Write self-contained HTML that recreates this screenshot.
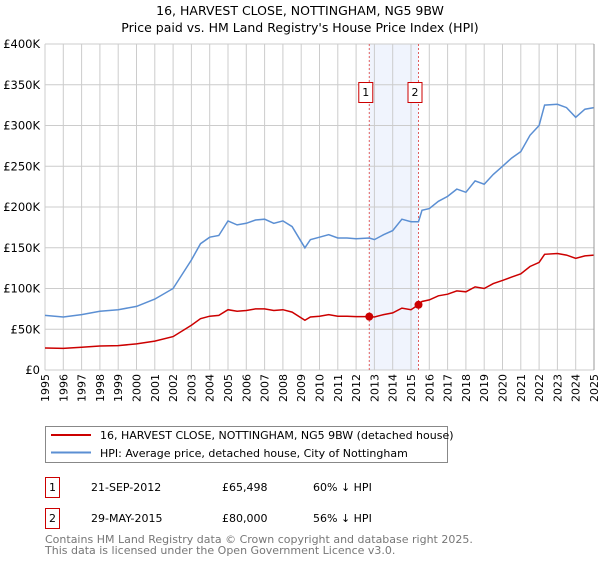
<!DOCTYPE html>
<html><head><meta charset="utf-8"><style>
body{margin:0;background:#fff;font-family:"Liberation Sans","DejaVu Sans",sans-serif;}
svg text{font-family:"DejaVu Sans","Liberation Sans",sans-serif;}
</style></head><body>
<svg id="chart" width="600" height="560" xmlns="http://www.w3.org/2000/svg">
<text x="300" y="15" text-anchor="middle" font-size="12.5" fill="#000">16, HARVEST CLOSE, NOTTINGHAM, NG5 9BW</text>
<text x="300" y="32" text-anchor="middle" font-size="12.5" fill="#000">Price paid vs. HM Land Registry's House Price Index (HPI)</text>
<g id="grid"></g><g id="series"></g><g id="axes"></g>
<rect x="45.5" y="426.5" width="402" height="36" fill="#fff" stroke="#888"/>
<line x1="51" y1="435" x2="91" y2="435" stroke="#cc0000" stroke-width="2"/>
<text x="100" y="439" font-size="11">16, HARVEST CLOSE, NOTTINGHAM, NG5 9BW (detached house)</text>
<line x1="51" y1="452.5" x2="91" y2="452.5" stroke="#5b8fd3" stroke-width="2"/>
<text x="100" y="457" font-size="11">HPI: Average price, detached house, City of Nottingham</text>
<g>
<rect x="45.5" y="477.5" width="14" height="20" fill="#fff" stroke="#cc0000"/>
<text x="52.5" y="491" font-size="11" text-anchor="middle">1</text>
<text x="91" y="491" font-size="11">21-SEP-2012</text>
<text x="222" y="491" font-size="11">£65,498</text>
<text x="313" y="491" font-size="11">60% ↓ HPI</text></g>
<g>
<rect x="45.5" y="508.5" width="14" height="20" fill="#fff" stroke="#cc0000"/>
<text x="52.5" y="522" font-size="11" text-anchor="middle">2</text>
<text x="91" y="522" font-size="11">29-MAY-2015</text>
<text x="222" y="522" font-size="11">£80,000</text>
<text x="313" y="522" font-size="11">56% ↓ HPI</text></g>
<text x="45" y="543" font-size="11" fill="#777">Contains HM Land Registry data © Crown copyright and database right 2025.</text>
<text x="45" y="554" font-size="11" fill="#777">This data is licensed under the Open Government Licence v3.0.</text>
</svg>
<script>
const years=[1995,1996,1997,1998,1999,2000,2001,2002,2003,2004,2005,2006,2007,2008,2009,2010,2011,2012,2013,2014,2015,2016,2017,2018,2019,2020,2021,2022,2023,2024,2025];
const yTicks=[0,50,100,150,200,250,300,350,400];
const yTickLabels=["£0","£50K","£100K","£150K","£200K","£250K","£300K","£350K","£400K"];
const hpiT=[1995,1996,1997,1998,1999,2000,2001,2002,2003,2003.5,2004,2004.5,2005,2005.5,2006,2006.5,2007,2007.5,2008,2008.5,2009.2,2009.5,2010,2010.5,2011,2011.5,2012,2012.72,2013,2013.5,2014,2014.5,2015,2015.41,2015.6,2016,2016.5,2017,2017.5,2018,2018.5,2019,2019.5,2020,2020.5,2021,2021.5,2022,2022.3,2023,2023.5,2024,2024.5,2025];
const hpiV=[67,65,68,72,74,78,87,100,135,155,163,165,183,178,180,184,185,180,183,176,150,160,163,166,162,162,161,162,160,166,171,185,182,182,196,198,207,213,222,218,232,228,240,250,260,268,288,300,325,326,322,310,320,322];
const ppV=[27,26.5,28,29.5,30,32,35.5,41,55,63,66,67,74,72,73,75,75,73,74,71,61,65,66,68,66,66,65.5,65.5,65,68,70,76,74,80,84,86,91,93,97,96,102,100,106,110,114,118,127,132,142,143,141,137,140,141];
const saleT=[2012.72,2015.41];
const saleV=[65.498,80];
const X0=45,X1=594,Y0=370,Y1=44;
const xs=t=>X0+(t-1995)/30*(X1-X0);
const ys=v=>Y0-v/400*(Y0-Y1);
const NS="http://www.w3.org/2000/svg";
function mk(p,tag,a){const e=document.createElementNS(NS,tag);for(const k in a)e.setAttribute(k,a[k]);p.appendChild(e);return e;}
const grid=document.getElementById('grid'),ser=document.getElementById('series'),ax=document.getElementById('axes');
let sh=mk(grid,'rect',{x:xs(saleT[0]),y:Y1,width:xs(saleT[1])-xs(saleT[0]),height:Y0-Y1,fill:'#f0f4fd'});


years.forEach(y=>{const l=mk(grid,'line',{x1:xs(y),x2:xs(y),y1:Y1,y2:Y0,stroke:'#ccc'});


const t=mk(ax,'text',{x:0,y:0,'font-size':11,'text-anchor':'end',transform:`translate(${xs(y)+4},374) rotate(-90)`});t.textContent=y;

});
yTicks.forEach((v,i)=>{const l=mk(grid,'line',{x1:X0,x2:X1,y1:ys(v),y2:ys(v),stroke:'#ccc'});


const t=mk(ax,'text',{x:40,y:ys(v)+4,'font-size':11.5,'text-anchor':'end'});t.textContent=yTickLabels[i];

});
const bd=mk(ax,'line',{x1:X1,x2:X1,y1:Y1,y2:Y0,stroke:'#999'});


saleT.forEach((t,i)=>{const l=mk(ser,'line',{x1:xs(t),x2:xs(t),y1:Y1,y2:Y0,stroke:'#e06060','stroke-dasharray':'2,2'});

});
function path(T,V,c,n){const d=T.map((t,i)=>(i?'L':'M')+xs(t).toFixed(1)+','+ys(V[i]).toFixed(1)).join('');
const p=mk(ser,'path',{d:d,fill:'none',stroke:c,'stroke-width':1.5});

}
path(hpiT,hpiV,'#5b8fd3','hpi-line');
path(hpiT,ppV,'#cc0000','property-price-line');
saleT.forEach((t,i)=>{const c=mk(ser,'circle',{cx:xs(t),cy:ys(saleV[i]),r:4,fill:'#cc0000'});


const r=mk(ser,'rect',{x:xs(t)-10.5,y:82.5,width:14,height:20,fill:'#fff',stroke:'#cc0000'});


const tx=mk(ser,'text',{x:xs(t)-3.5,y:96,'font-size':11,'text-anchor':'middle'});tx.textContent=String(i+1);

});
</script>
</body></html>
